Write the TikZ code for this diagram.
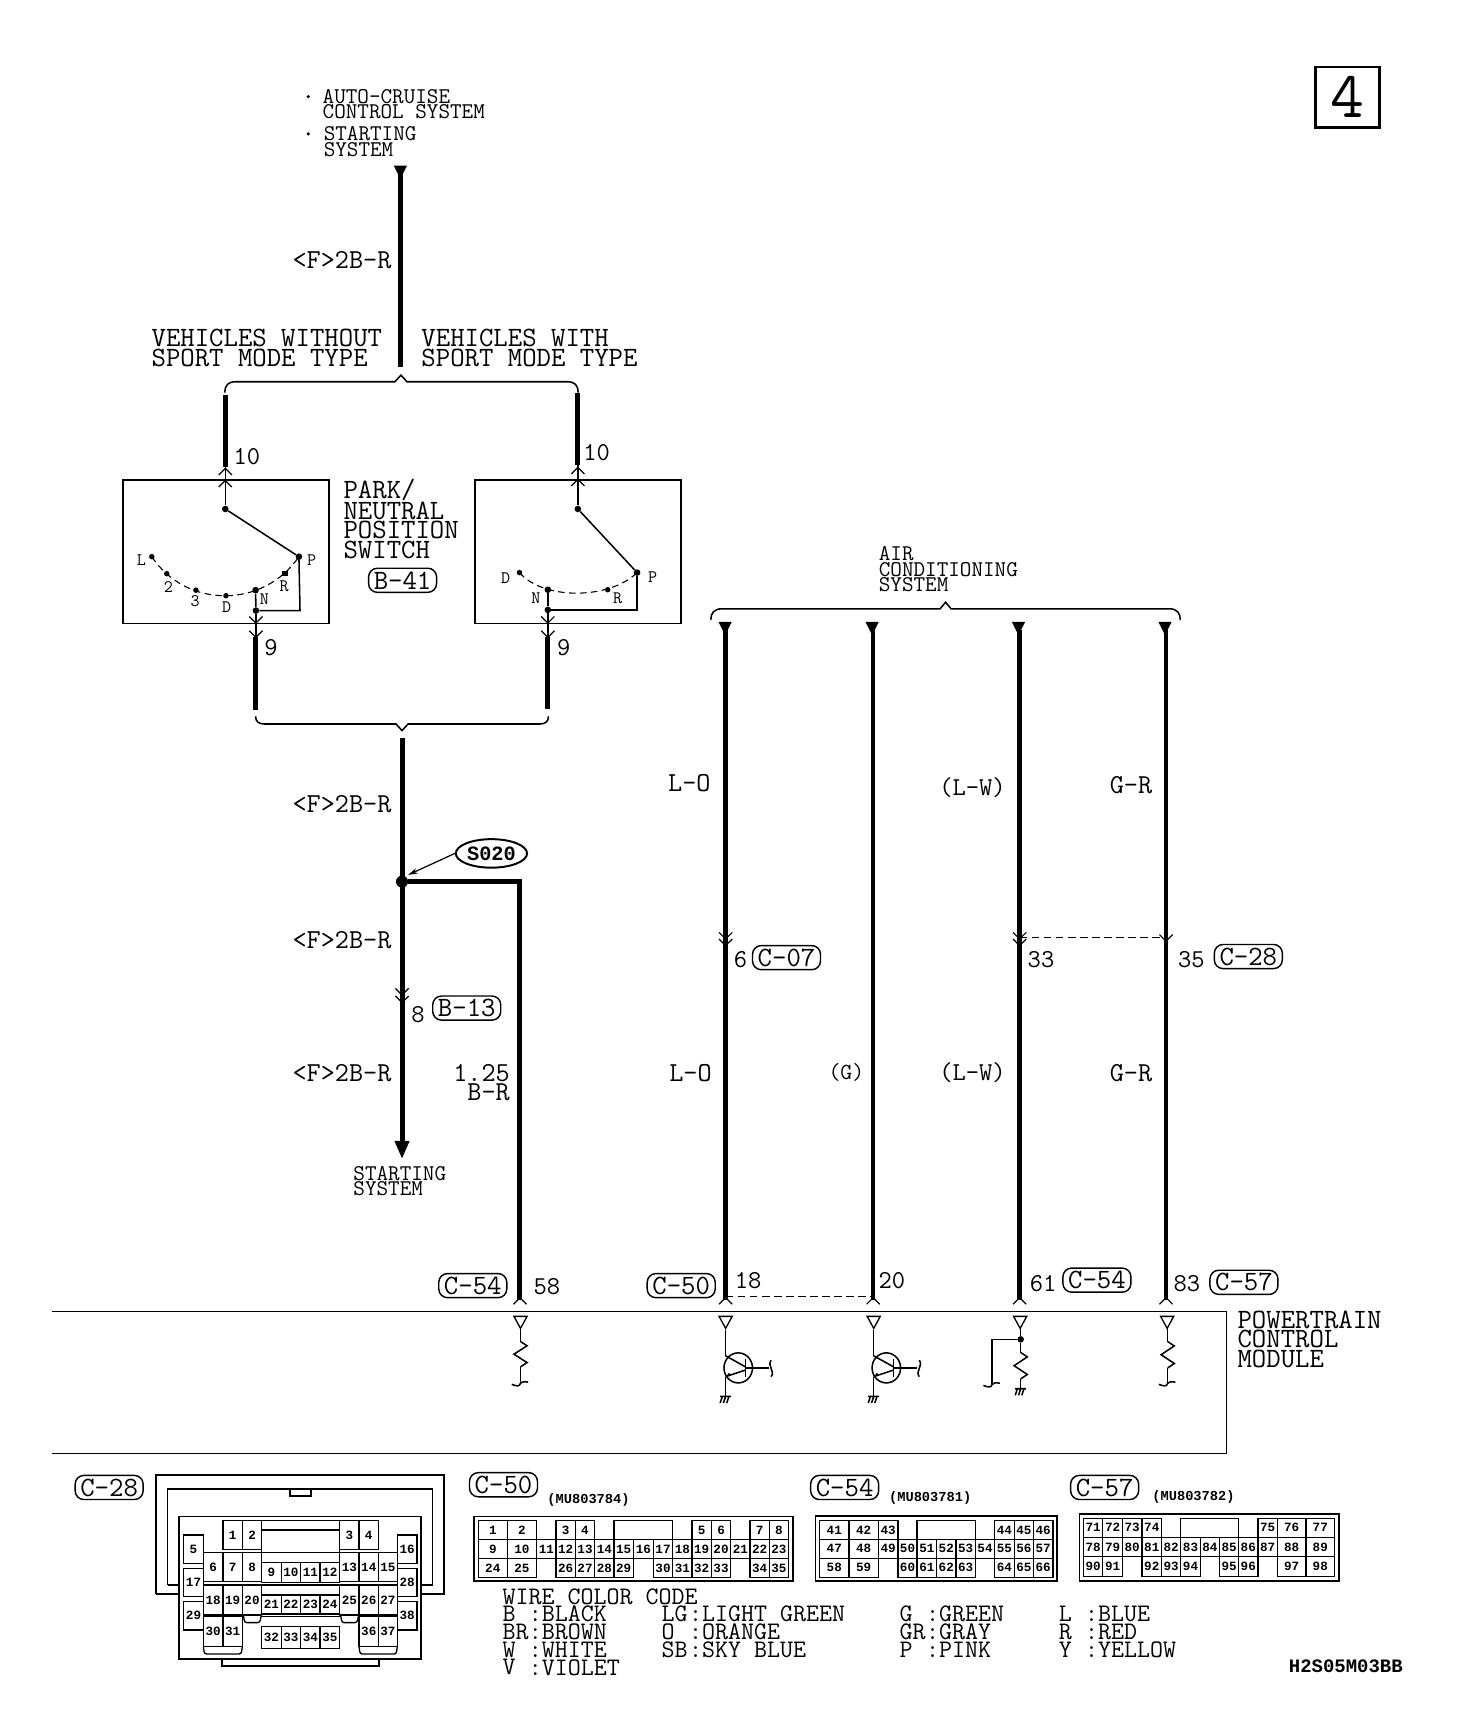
\documentclass[tikz,border=0pt]{standalone}
\usepackage{fontspec}
\newfontfamily\lmb{Liberation Mono}[BoldFont={Liberation Mono Bold}]
\usetikzlibrary{arrows.meta,shapes.geometric}
\tikzset{
 lab/.style={font=\ttfamily\fontsize{25.5}{18}\selectfont,inner sep=0pt,align=left,text=black},
 wl/.style={font=\ttfamily\fontsize{25}{18}\selectfont,inner sep=0pt,align=left,text=black},
 mid/.style={font=\ttfamily\fontsize{23}{16.5}\selectfont,inner sep=0pt,align=left,text=black},
 sml/.style={font=\ttfamily\fontsize{20.5}{14}\selectfont,inner sep=0pt,align=left,text=black},
 pinlab/.style={font=\ttfamily\fontsize{23.5}{18}\selectfont,inner sep=0pt},
 swlab/.style={font=\ttfamily\fontsize{16}{16}\selectfont,inner sep=0pt},
 tagbox/.style={draw,line width=1.3pt,rounded corners=8pt,minimum width=62pt,minimum height=22pt,inner sep=0pt,font=\ttfamily\fontsize{25.5}{24}\selectfont},
 wire/.style={line width=4.5pt},
 acwire/.style={line width=4pt},
 thinw/.style={line width=1.4pt},
 boxl/.style={line width=1.5pt},
 bracel/.style={line width=1.4pt},
 dashw/.style={line width=1.1pt,dash pattern=on 7pt off 4pt},
 celll/.style={line width=1.2pt},
 cellnum/.style={font=\lmb\bfseries\fontsize{11.5}{12}\selectfont,inner sep=0pt},
 mupart/.style={font=\lmb\bfseries\fontsize{12.5}{13}\selectfont,inner sep=0pt},
 chevd/.pic={\draw[line width=1.1pt] (-6,-6) -- (0,0) -- (6,-6);},
 chevu/.pic={\draw[line width=1.1pt] (-6,6) -- (0,0) -- (6,6);},
 blackdot/.style={circle,fill=black,inner sep=0pt,minimum size=6pt},
}
\newcommand{\trifill}[2]{\fill (#1-6,#2) -- (#1+6,#2) -- (#1,#2+12) -- cycle;}
\newcommand{\triopen}[2]{\draw[line width=1.2pt] (#1-6,#2) -- (#1+6,#2) -- (#1,#2+11) -- cycle;}
\newcommand{\zigres}[3]{\draw[thinw] (#1,#2) -- ({#1+6},{#2+(#3-#2)/6}) -- ({#1-6},{#2+(#3-#2)/2}) -- ({#1+6},{#2+5*(#3-#2)/6}) -- (#1,#3);}
\newcommand{\squig}[2]{\draw[thinw] (#1-8,#2+1) .. controls (#1-3,#2+3) and (#1-1,#2+3) .. (#1,#2) .. controls (#1+1,#2-1) and (#1+3,#2-2) .. (#1+7,#2-1);}
\newcommand{\gnd}[2]{\draw[thinw] (#1-5,#2) -- (#1+5,#2) (#1-3,#2) -- (#1-5,#2+6) (#1,#2) -- (#1-2,#2+6) (#1+3,#2) -- (#1+1,#2+6);}
\newcommand{\trans}[2]{%
 \draw[thinw] (#1+11.5,#2) ellipse (13 and 13.7);
 \draw[line width=1.6pt] (#1+18,#2-8) -- (#1+18,#2+8);
 \draw[thinw] (#1,#2-11) -- (#1+18,#2-1) (#1,#2+8) -- (#1+18,#2+2);
 \draw[thinw] (#1,#2-35) -- (#1,#2-11) (#1,#2+8) -- (#1,#2+26);
 \fill (#1+3,#2+6) circle (1.5);
 \gnd{#1}{#2+26}
}
\newcommand{\cel}[6]{\draw[celll] (#2,#4) rectangle (#3,#5); \node[cellnum] (#1-#6) at ({(#2+#3)/2},{(#4+#5)/2}) {#6};}
\begin{document}
\begin{tikzpicture}[x=1pt,y=-1pt]
\useasboundingbox (0,0) rectangle (1342,1568);
\fill[white] (0,0) rectangle (1342,1568);

% box 4
\node[draw,line width=2.5pt,minimum width=58pt,minimum height=55pt,inner sep=0pt,font=\ttfamily\fontsize{60}{60}\selectfont] (four) at (1228.5,88.5) {4};

% top
\fill (281,88) circle (1.6);
\fill (281,122) circle (1.6);
\node[sml,anchor=west] (acc) at (294,95) {AUTO-CRUISE\\CONTROL SYSTEM};
\node[sml,anchor=west] (ss) at (295,129) {STARTING\\SYSTEM};
\trifill{365}{151}
\coordinate (t1) at (365,158); \coordinate (t2) at (365,335);
\draw[wire] (t1) -- (t2);
\node[wl,anchor=east] (fa) at (357,237) {<F>2B-R};
\node[lab,anchor=west] (vwo) at (138,317.5) {VEHICLES WITHOUT\\SPORT MODE TYPE};
\node[lab,anchor=west] (vw) at (384,317.5) {VEHICLES WITH\\SPORT MODE TYPE};
\draw[bracel] (205,358) .. controls (205,351) and (208,348) .. (215,348) -- (360,348) -- (365.5,342) -- (371,348) -- (517,348) .. controls (524,348) and (527,351) .. (527,358);

% left switch
\node[draw,boxl,minimum width=188pt,minimum height=131pt,inner sep=0pt] (swl) at (206,503) {};
\coordinate (lw1) at (205.4,360); \coordinate (lw2) at (205.4,426);
\draw[wire] (lw1) -- (lw2);
\pic at (205.4,427) {chevu}; \pic at (205.4,438) {chevu};
\node[pinlab] (p10l) at (225,416) {10};
\node[blackdot] (lpiv) at (205.4,464) {};
\node[blackdot] (lP) at (272.5,507.5) {};
\draw[thinw] (lw2) -- (lpiv);
\draw[thinw] (lpiv) -- (lP);
\coordinate (lJ2) at (273.5,556.6);
\node[blackdot] (lJ) at (233.3,556.6) {};
\node[blackdot] (lN) at (233,538) {};
\draw[thinw] (lP) -- (lJ2) -- (lJ);
\draw[thinw] (lN) -- (lJ);
\draw[line width=1pt,dash pattern=on 6pt off 4pt] (138.4,507.5) .. controls (170,555) and (240,555) .. (272.5,507.5);
\node[blackdot,minimum size=5pt] (lL) at (138.4,507.5) {};
\node[blackdot,minimum size=5pt] (l2) at (152,523) {};
\node[blackdot,minimum size=5pt] (l3) at (178.6,538) {};
\node[blackdot,minimum size=5pt] (lD) at (206,543) {};
\node[fill=black,inner sep=0pt,minimum size=5pt] (lR) at (260,523) {};
\node[swlab] (tL) at (129,511) {L};
\node[swlab] (t2n) at (153.5,535) {2};
\node[swlab] (t3n) at (178,548) {3};
\node[swlab] (tD) at (206.5,553.5) {D};
\node[swlab] (tN) at (241,546.5) {N};
\node[swlab] (tR) at (259,534) {R};
\node[swlab] (tP) at (284,511) {P};
\coordinate (lb1) at (233.3,581); \coordinate (lb2) at (233.3,647);
\draw[thinw] (lJ) -- (lb1);
\pic at (233.3,568) {chevd}; \pic at (233.3,581) {chevd};
\draw[wire] (lb1) -- (lb2);
\node[pinlab] (p9l) at (247,590) {9};

\node[lab,anchor=west] (pnp) at (313,473) {PARK/\\NEUTRAL\\POSITION\\SWITCH};
\node[tagbox] (b41) at (367,529) {B-41};

% right switch
\node[draw,boxl,minimum width=188pt,minimum height=131pt,inner sep=0pt] (swr) at (527,503) {};
\coordinate (rw1) at (526.8,358); \coordinate (rw2) at (526.8,424);
\draw[wire] (rw1) -- (rw2);
\pic at (526.8,426) {chevu}; \pic at (526.8,437) {chevu};
\node[pinlab] (p10r) at (544,413) {10};
\node[blackdot] (rpiv) at (526.8,464) {};
\node[blackdot] (rP) at (580.8,522) {};
\draw[thinw] (rw2) -- (rpiv);
\draw[thinw] (rpiv) -- (rP);
\coordinate (rJ2) at (580.8,556);
\node[blackdot] (rJ) at (499.4,556) {};
\node[blackdot] (rN) at (499.4,537.6) {};
\draw[thinw] (rP) -- (rJ2) -- (rJ);
\draw[thinw] (rN) -- (rJ);
\draw[line width=1pt,dash pattern=on 6pt off 4pt] (473.6,522) .. controls (495,547) and (555,547) .. (580.8,522);
\node[blackdot,minimum size=5pt] (rD) at (473.6,522) {};
\node[blackdot,minimum size=5pt] (rR) at (554,537.6) {};
\node[swlab] (trD) at (461,527) {D};
\node[swlab] (trN) at (488.5,545) {N};
\node[swlab] (trR) at (563,545) {R};
\node[swlab] (trP) at (595,526) {P};
\coordinate (rb1) at (499.4,581); \coordinate (rb2) at (499.4,646);
\draw[thinw] (rJ) -- (rb1);
\pic at (499.4,568) {chevd}; \pic at (499.4,581) {chevd};
\draw[wire] (rb1) -- (rb2);
\node[pinlab] (p9r) at (514,590) {9};

% lower brace
\draw[bracel] (233,653) .. controls (233,658) and (236,660) .. (241,660) -- (361,660) -- (366.5,666) -- (372,660) -- (492,660) .. controls (497,660) and (500,658) .. (500,653);

% main wire
\coordinate (m1) at (366.5,673); \coordinate (m2) at (366.5,1042);
\draw[wire] (m1) -- (m2);
\fill (359.5,1040) -- (373.5,1040) -- (366.5,1056) -- cycle;
\node[wl,anchor=east] (fb) at (357,733) {<F>2B-R};
\node[wl,anchor=east] (fc) at (357,857) {<F>2B-R};
\node[wl,anchor=east] (fd) at (357,978) {<F>2B-R};
\node[blackdot,minimum size=11pt] (sj) at (366.5,803.7) {};
\coordinate (bc) at (473.4,803.7); \coordinate (be) at (473.4,1185);
\draw[wire,line join=miter] (sj) -- (bc) -- (be);
\node[draw,ellipse,line width=1.8pt,minimum width=65pt,minimum height=26pt,inner sep=0pt,font=\lmb\bfseries\fontsize{18.5}{18}\selectfont] (s020) at (448,778) {S020};
\coordinate (s020t) at (372,797.6);
\draw[line width=1.1pt,-{Stealth[length=9pt,width=5pt]}] (s020.west) -- (s020t);
\pic at (366.5,907) {chevd}; \pic at (366.5,914) {chevd};
\node[pinlab] (p8) at (381,925) {8};
\node[tagbox] (b13) at (425.5,919) {B-13};
\node[wl,align=right,anchor=east] (w125) at (465,987) {1.25\\B-R};
\node[sml,anchor=west] (sts) at (322,1077) {STARTING\\SYSTEM};

% A/C
\node[sml,anchor=west] (ac) at (801,519) {AIR\\CONDITIONING\\SYSTEM};
\draw[bracel] (648,565) .. controls (648,559) and (651,555) .. (658,555) -- (857,555) -- (862,549) -- (867,555) -- (1066,555) .. controls (1073,555) and (1076,559) .. (1076,565);
\trifill{661}{567}\trifill{795}{567}\trifill{928.5}{567}\trifill{1062}{567}
\coordinate (a1) at (661.5,574); \coordinate (a1e) at (661.5,1185);
\coordinate (a2) at (796,574); \coordinate (a2e) at (796,1185);
\coordinate (a3) at (929.5,574); \coordinate (a3e) at (929.5,1185);
\coordinate (a4) at (1063,574); \coordinate (a4e) at (1063,1185);
\draw[acwire] (a1) -- (a1e);
\draw[acwire] (a2) -- (a2e);
\draw[acwire] (a3) -- (a3e);
\draw[acwire] (a4) -- (a4e);
\node[wl,anchor=east] (lo1) at (648,714) {L-O};
\node[wl,anchor=east] (lo2) at (649,978) {L-O};
\node[wl,anchor=east,font=\ttfamily\fontsize{23.5}{18}\selectfont] (lw1t) at (917,718) {(L-W)};
\node[wl,anchor=east,font=\ttfamily\fontsize{23.5}{18}\selectfont] (lw2t) at (917,978) {(L-W)};
\node[wl,anchor=east] (gr1) at (1050.5,716) {G-R};
\node[wl,anchor=east] (gr2) at (1050.5,978) {G-R};
\node[wl,anchor=east,font=\ttfamily\fontsize{21}{18}\selectfont] (gg) at (788,978) {(G)};
\pic at (661.5,856) {chevd}; \pic at (661.5,862) {chevd};
\pic at (929.5,856) {chevd}; \pic at (929.5,862) {chevd};
\pic at (1063,858) {chevd};
\coordinate (d1) at (929.5,855); \coordinate (d2) at (1063,855);
\draw[dashw] (d1) -- (d2);
\node[pinlab] (p6) at (675,875) {6};
\node[tagbox] (c07) at (717,873) {C-07};
\node[pinlab] (p33) at (949,875) {33};
\node[pinlab] (p35) at (1086,875) {35};
\node[tagbox] (c28a) at (1138,872) {C-28};

% bottom terminals
\node[tagbox] (c54a) at (431,1172) {C-54};
\node[pinlab] (p58) at (498.5,1173) {58};
\node[tagbox] (c50a) at (621,1172) {C-50};
\node[pinlab] (p18) at (682,1167) {18};
\node[pinlab] (p20) at (813,1167) {20};
\node[pinlab] (p61) at (951,1170) {61};
\node[tagbox] (c54b) at (1000,1167) {C-54};
\node[pinlab] (p83) at (1082,1170) {83};
\node[tagbox] (c57a) at (1134,1169) {C-57};
\coordinate (d3) at (661.5,1182); \coordinate (d4) at (796,1182);
\draw[dashw] (d3) -- (d4);
\pic at (474,1183) {chevu}; \pic at (661.5,1183) {chevu}; \pic at (796,1183) {chevu}; \pic at (929.5,1183) {chevu}; \pic at (1063,1183) {chevu};

% module
\coordinate (ma) at (47,1195.5); \coordinate (mb) at (1118,1195.5); \coordinate (mc) at (1118,1325); \coordinate (md) at (47,1325);
\draw[line width=1.5pt] (ma) -- (mb) -- (mc) -- (md);
\node[lab,anchor=west] (pcm) at (1128,1221) {POWERTRAIN\\CONTROL\\MODULE};

% internals
\triopen{474.5}{1200}\triopen{661.5}{1200}\triopen{796.5}{1200}\triopen{930}{1200}\triopen{1064}{1200}
\draw[thinw] (474.5,1211) -- (474.5,1223);
\zigres{474.5}{1223}{1246}
\draw[thinw] (474.5,1246) -- (474.5,1261);
\squig{474.5}{1261}
\trans{661.5}{1247}
\draw[thinw] (679.5,1247) -- (701,1247);
\draw[thinw] (703,1240) .. controls (699,1245) and (707,1250) .. (703,1255);
\trans{796.5}{1247}
\draw[line width=1.6pt] (814.5,1247) -- (836,1247);
\draw[thinw] (838,1240) .. controls (842,1245) and (834,1250) .. (838,1255);
\node[blackdot] (j3) at (930.5,1221) {};
\draw[thinw] (930.5,1211) -- (j3);
\draw[line width=1.6pt] (j3) -- (904.5,1221) -- (904.5,1262);
\squig{904.5}{1262}
\draw[thinw] (j3) -- (930.5,1233);
\zigres{930.5}{1233}{1257}
\draw[thinw] (930.5,1257) -- (930.5,1266);
\gnd{930.5}{1266}
\draw[thinw] (1064.5,1211) -- (1064.5,1223);
\zigres{1064.5}{1223}{1247}
\draw[thinw] (1064.5,1247) -- (1064.5,1261);
\squig{1064.5}{1261}

% tags for connector diagrams
\node[tagbox] (c28b) at (99.5,1356) {C-28};
\node[tagbox] (c50b) at (459,1353.5) {C-50};
\node[tagbox] (c54c) at (770,1356) {C-54};
\node[tagbox] (c57b) at (1007,1356) {C-57};
\node[mupart] (mu1) at (536.5,1367) {(MU803784)};
\node[mupart] (mu2) at (848,1366) {(MU803781)};
\node[mupart] (mu3) at (1088,1365) {(MU803782)};

% C-28 diagram
\begin{scope}[x=0.3058pt,y=-0.304pt,shift={(36.5pt,-1340pt)}]
\draw[line width=1.6pt] (345,372) -- (345,15) -- (1205,15) -- (1205,372) -- (1135,372) (345,372) -- (415,372);
\draw[line width=1.6pt] (380,345) -- (380,58) -- (1170,58) -- (1170,345) -- (1135,345) (380,345) -- (415,345);
\draw[celll] (745,58) rectangle (808,78);
\draw[line width=1.6pt] (415,140) rectangle (1135,568);
\draw[line width=1.6pt] (543,568) -- (543,588) -- (1010,588) -- (1010,568);
\draw[celll] (661,152) rectangle (893,248) (661,180) -- (893,180);
\foreach \n/\a/\b in {1/545/603,2/603/661,3/893/951,4/951/1009} {\cel{q}{\a}{\b}{152}{238}{\n}}
\cel{q}{428}{487}{195}{280}{5}
\cel{q}{1065}{1124}{195}{280}{16}
\foreach \n/\a/\b in {6/487/545,7/545/603,8/603/661,13/893/951,14/951/1009,15/1009/1065} {\cel{q}{\a}{\b}{248}{335}{\n}}
\foreach \n/\a/\b in {9/661/719,10/719/777,11/777/835,12/835/893} {\cel{q}{\a}{\b}{278}{338}{\n}}
\cel{q}{428}{487}{295}{380}{17}
\cel{q}{1065}{1124}{295}{380}{28}
\foreach \n/\a/\b in {18/487/545,19/545/603,20/603/661,25/893/951,26/951/1009,27/1009/1065} {\cel{q}{\a}{\b}{345}{435}{\n}}
\foreach \n/\a/\b in {21/661/719,22/719/777,23/777/835,24/835/893} {\cel{q}{\a}{\b}{375}{432}{\n}}
\draw[celll] (661,345) -- (893,345);
\cel{q}{428}{487}{395}{480}{29}
\cel{q}{1065}{1124}{395}{480}{38}
\foreach \n/\a/\b in {30/487/545,31/545/603,36/951/1009,37/1009/1065} {\cel{q}{\a}{\b}{440}{530}{\n}}
\foreach \n/\a/\b in {32/661/719,33/719/777,34/777/835,35/835/893} {\cel{q}{\a}{\b}{470}{535}{\n}}
\draw[celll] (661,440) -- (893,440);
\draw[celll,rounded corners=2pt] (487,530) -- (490,552) -- (600,552) -- (603,530);
\draw[celll,rounded corners=2pt] (951,530) -- (954,552) -- (1062,552) -- (1065,530);
\draw[celll,rounded corners=2pt] (606,435) -- (610,458) -- (655,458) -- (660,435);
\draw[celll,rounded corners=2pt] (896,435) -- (900,458) -- (945,458) -- (950,435);
\end{scope}

% C-50 diagram
\begin{scope}[x=0.304pt,y=-0.304pt,shift={(419.3pt,-1340pt)}]
\draw[line width=1.6pt] (42,140) rectangle (998,333);
\draw[celll] (462,152) rectangle (638,208);
\foreach \n/\a/\b in {1/55/142,2/142/230,3/288/346,4/346/404,5/696/754,6/754/812,7/870/928,8/928/985} {\cel{a}{\a}{\b}{152}{208}{\n}}
\foreach \n/\a/\b in {9/55/142,10/142/230,11/230/288,12/288/346,13/346/404,14/404/462,15/462/520,16/520/580,17/580/638,18/638/696,19/696/754,20/754/812,21/812/870,22/870/928,23/928/985} {\cel{a}{\a}{\b}{208}{266}{\n}}
\foreach \n/\a/\b in {24/55/142,25/142/230,26/288/346,27/346/404,28/404/462,29/462/520,30/580/638,31/638/696,32/696/754,33/754/812,34/870/928,35/928/985} {\cel{a}{\a}{\b}{266}{322}{\n}}
\end{scope}

% C-54 diagram
\begin{scope}[x=0.372pt,y=-0.304pt,shift={(729.3pt,-1340pt)}]
\draw[line width=1.6pt] (38,138) rectangle (630,332);
\draw[celll] (287,152) rectangle (430,208);
\foreach \n/\a/\b in {41/48/120,42/120/192,43/192/240,44/477/525,45/525/572,46/572/620} {\cel{b}{\a}{\b}{152}{208}{\n}}
\foreach \n/\a/\b in {47/48/120,48/120/192,49/192/240,50/240/287,51/287/335,52/335/382,53/382/430,54/430/477,55/477/525,56/525/572,57/572/620} {\cel{b}{\a}{\b}{208}{265}{\n}}
\foreach \n/\a/\b in {58/48/120,59/120/192,60/240/287,61/287/335,62/335/382,63/382/430,64/477/525,65/525/572,66/572/620} {\cel{b}{\a}{\b}{265}{322}{\n}}
% C-57 diagram
\draw[line width=1.6pt] (685,133) rectangle (1320,332);
\draw[celll] (933,145) rectangle (1075,202);
\foreach \n/\a/\b in {71/695/742,72/742/790,73/790/838,74/838/886,75/1122/1170,76/1170/1240,77/1240/1310} {\cel{b}{\a}{\b}{145}{202}{\n}}
\foreach \n/\a/\b in {78/695/742,79/742/790,80/790/838,81/838/886,82/886/933,83/933/981,84/981/1028,85/1028/1075,86/1075/1122,87/1122/1170,88/1170/1240,89/1240/1310} {\cel{b}{\a}{\b}{202}{260}{\n}}
\foreach \n/\a/\b in {90/695/742,91/742/790,92/838/886,93/886/933,94/933/981,95/1028/1075,96/1075/1122,97/1170/1240,98/1240/1310} {\cel{b}{\a}{\b}{260}{320}{\n}}
\end{scope}

% wire colour code
\node[mid,anchor=west] (wcc) at (458,1455.5) {WIRE COLOR CODE};
\foreach \nm/\k/\v/\yy in {wa/B/BLACK/1471,wb/BR/BROWN/1488,wc/W/WHITE/1504,wd/V/VIOLET/1520} {
 \node[mid,anchor=west] (\nm k) at (458,\yy) {\k};
 \node[mid,anchor=west] (\nm c) at (482,\yy) {:\v};
}
\foreach \nm/\k/\v/\yy in {xa/LG/LIGHT GREEN/1471,xb/O/ORANGE/1488,xc/SB/SKY BLUE/1504} {
 \node[mid,anchor=west] (\nm k) at (603,\yy) {\k};
 \node[mid,anchor=west] (\nm c) at (628,\yy) {:\v};
}
\foreach \nm/\k/\v/\yy in {ya/G/GREEN/1471,yb/GR/GRAY/1488,yc/P/PINK/1504} {
 \node[mid,anchor=west] (\nm k) at (820,\yy) {\k};
 \node[mid,anchor=west] (\nm c) at (844,\yy) {:\v};
}
\foreach \nm/\k/\v/\yy in {za/L/BLUE/1471,zb/R/RED/1488,zc/Y/YELLOW/1504} {
 \node[mid,anchor=west] (\nm k) at (965,\yy) {\k};
 \node[mid,anchor=west] (\nm c) at (989,\yy) {:\v};
}
\node[font=\lmb\bfseries\fontsize{17.3}{18}\selectfont,inner sep=0pt,anchor=east] (code) at (1279,1519) {H2S05M03BB};
\end{tikzpicture}
\end{document}
